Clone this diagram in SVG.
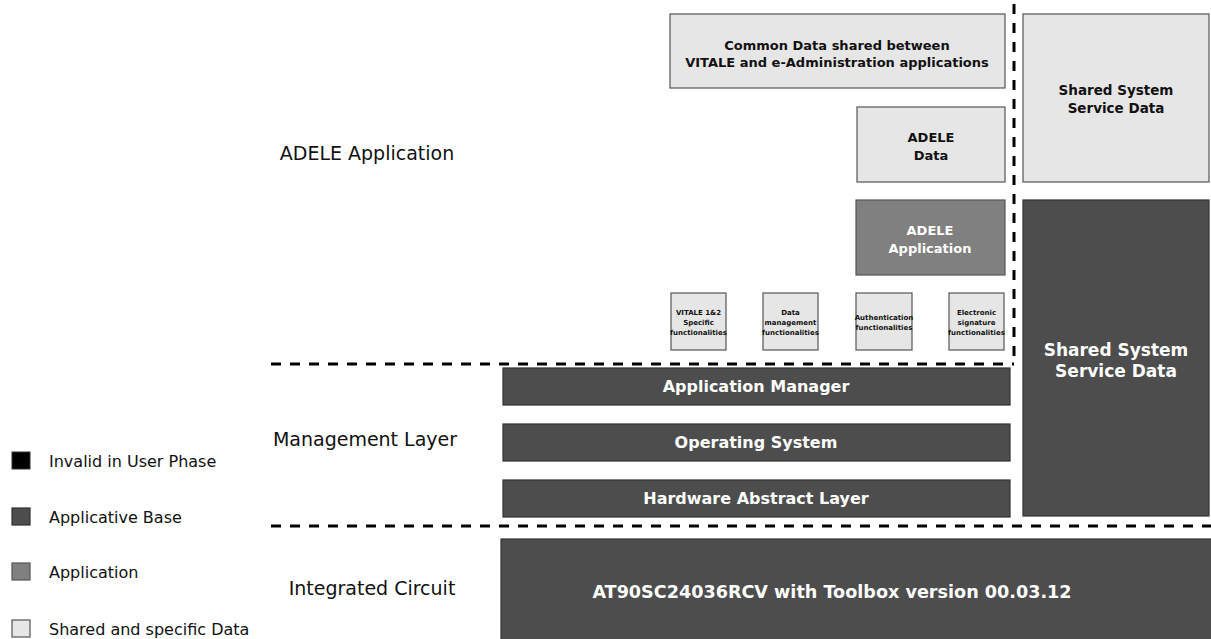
<svg xmlns="http://www.w3.org/2000/svg" width="1211" height="639" viewBox="0 0 1211 639">
<style>
.light{fill:#e6e6e6;stroke:#555;stroke-width:1.2}
.mid{fill:#808080;stroke:#555;stroke-width:1.2}
.dark{fill:#4d4d4d;stroke:#333;stroke-width:1.2}
.black{fill:#000;stroke:#333;stroke-width:1}
.bt{font-family:"DejaVu Sans","Liberation Sans",sans-serif;font-weight:bold;text-anchor:middle}
.dk{fill:#111}
.wt{fill:#fff}
.lbl{font-family:"DejaVu Sans","Liberation Sans",sans-serif;font-size:19px;fill:#111;text-anchor:middle}
.leg{font-family:"DejaVu Sans","Liberation Sans",sans-serif;font-size:16px;fill:#111}
.dash{stroke:#000;stroke-width:3;stroke-dasharray:10 9;fill:none}
</style>
<g id="connectors">
<line class="dash" x1="271" y1="364" x2="1014" y2="364"/>
<line class="dash" x1="1014" y1="4" x2="1014" y2="364"/>
<line class="dash" x1="271" y1="526" x2="1211" y2="526"/>
</g>
<g id="lbl-adele"><text class="lbl" x="367" y="160">ADELE Application</text></g>
<g id="lbl-mgmt"><text class="lbl" x="365" y="446">Management Layer</text></g>
<g id="lbl-ic"><text class="lbl" x="372" y="595">Integrated Circuit</text></g>
<g id="common-data">
<rect class="light" x="670" y="14" width="335" height="74"/>
<text class="bt dk" font-size="13" x="837" y="50">Common Data shared between</text>
<text class="bt dk" font-size="13" x="837" y="67">VITALE and e-Administration applications</text>
</g>
<g id="adele-data">
<rect class="light" x="857" y="107" width="148" height="75"/>
<text class="bt dk" font-size="13" x="931" y="142">ADELE</text>
<text class="bt dk" font-size="13" x="931" y="160">Data</text>
</g>
<g id="shared-data-top">
<rect class="light" x="1023" y="14" width="186" height="168"/>
<text class="bt dk" font-size="13.5" x="1116" y="95">Shared System</text>
<text class="bt dk" font-size="13.5" x="1116" y="113">Service Data</text>
</g>
<g id="adele-app">
<rect class="mid" x="856" y="200" width="149" height="75"/>
<text class="bt wt" font-size="13" x="930" y="235">ADELE</text>
<text class="bt wt" font-size="13" x="930" y="253">Application</text>
</g>
<g id="shared-data-dark">
<rect class="dark" x="1023" y="200" width="186" height="316"/>
<text class="bt wt" font-size="17" x="1116" y="356">Shared System</text>
<text class="bt wt" font-size="17" x="1116" y="377">Service Data</text>
</g>
<g id="vitale">
<rect class="light" x="671" y="293" width="55" height="57"/>
<text class="bt dk" font-size="7" x="698.5" y="314.5">VITALE 1&amp;2</text>
<text class="bt dk" font-size="7" x="698.5" y="324.5">Specific</text>
<text class="bt dk" font-size="7" x="698.5" y="334.5">functionalities</text>
</g>
<g id="datamgmt">
<rect class="light" x="763" y="293" width="55" height="57"/>
<text class="bt dk" font-size="7" x="790.5" y="314.5">Data</text>
<text class="bt dk" font-size="7" x="790.5" y="324.5">management</text>
<text class="bt dk" font-size="7" x="790.5" y="334.5">functionalities</text>
</g>
<g id="auth">
<rect class="light" x="856" y="293" width="56" height="57"/>
<text class="bt dk" font-size="7" x="884" y="319.5">Authentication</text>
<text class="bt dk" font-size="7" x="884" y="329.5">functionalities</text>
</g>
<g id="esign">
<rect class="light" x="949" y="293" width="55" height="57"/>
<text class="bt dk" font-size="7" x="976.5" y="314.5">Electronic</text>
<text class="bt dk" font-size="7" x="976.5" y="324.5">signature</text>
<text class="bt dk" font-size="7" x="976.5" y="334.5">functionalities</text>
</g>
<g id="app-manager">
<rect class="dark" x="503" y="368" width="507" height="37"/>
<text class="bt wt" font-size="16" x="756" y="392">Application Manager</text>
</g>
<g id="os">
<rect class="dark" x="503" y="424" width="507" height="37"/>
<text class="bt wt" font-size="16" x="756" y="448">Operating System</text>
</g>
<g id="hal">
<rect class="dark" x="503" y="480" width="507" height="37"/>
<text class="bt wt" font-size="16" x="756" y="504">Hardware Abstract Layer</text>
</g>
<g id="ic">
<rect class="dark" x="501" y="539" width="712" height="102"/>
<text class="bt wt" font-size="17.6" x="832" y="598">AT90SC24036RCV with Toolbox version 00.03.12</text>
</g>
<g id="legend">
<rect class="black" x="12" y="452" width="18" height="17"/>
<text class="leg" x="49" y="467">Invalid in User Phase</text>
<rect class="dark" x="12" y="508" width="18" height="17"/>
<text class="leg" x="49" y="523">Applicative Base</text>
<rect class="mid" x="12" y="563" width="18" height="17"/>
<text class="leg" x="49" y="578">Application</text>
<rect class="light" x="12" y="620" width="18" height="17"/>
<text class="leg" x="49" y="635">Shared and specific Data</text>
</g>
</svg>
